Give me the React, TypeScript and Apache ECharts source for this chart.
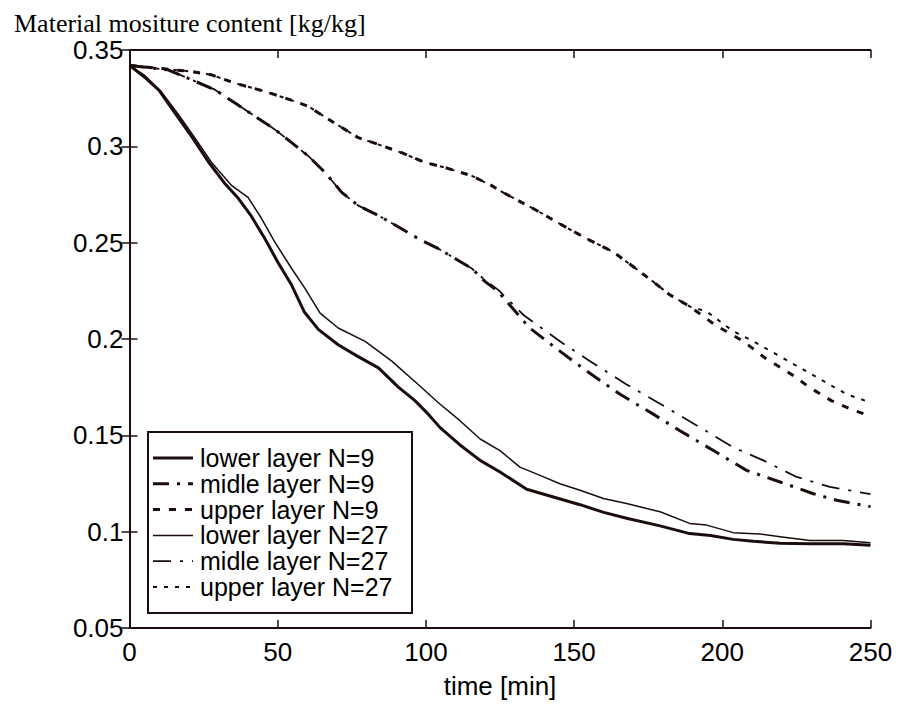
import React, { useEffect, useRef } from "react";
import * as echarts from "echarts";

// time [min], moisture [kg/kg]
const lowerN9: [number, number][] = [
  [0, 0.342], [5, 0.336], [10, 0.329], [15, 0.318], [21, 0.305], [26.6, 0.292], [32, 0.281],
  [36.7, 0.273], [41, 0.264], [45.7, 0.252], [50, 0.24], [54.7, 0.228], [59, 0.214], [63.7, 0.205],
  [70.4, 0.197], [77, 0.191], [84, 0.185], [90.7, 0.175], [96.3, 0.168], [100.8, 0.161],
  [104.8, 0.154], [111.5, 0.145], [118.3, 0.137], [125, 0.131], [134, 0.122], [143, 0.118],
  [152, 0.114], [160, 0.11], [167.7, 0.107], [179, 0.103], [189, 0.099], [196, 0.098],
  [203.7, 0.096], [210.5, 0.095], [219.5, 0.094], [229.6, 0.0937], [240.8, 0.0937], [250, 0.093],
];

const lowerN27: [number, number][] = [
  [0, 0.342], [5, 0.337], [10.9, 0.328], [16.5, 0.3165], [22, 0.3045], [27.7, 0.2916],
  [34.5, 0.2796], [40, 0.2735], [44.6, 0.2624], [49, 0.2504], [54.7, 0.2366], [59.2, 0.2263],
  [64.3, 0.2134], [70.4, 0.2057], [79.5, 0.1988], [88.5, 0.1885], [97.4, 0.1764], [104.5, 0.1665],
  [111.5, 0.1576], [118.3, 0.1481], [125, 0.1421], [131.7, 0.1335], [138.5, 0.1292],
  [145.2, 0.1249], [152, 0.1215], [159.9, 0.1172], [167.7, 0.1146], [179, 0.1103], [189, 0.1043],
  [194.7, 0.1034], [203.7, 0.0995], [212.7, 0.0988], [219.5, 0.0974], [229.6, 0.0954],
  [240.8, 0.0954], [250, 0.0943],
];

const midleN9: [number, number][] = [
  [0, 0.342], [13, 0.3397], [21, 0.3345], [28.8, 0.3294], [35.6, 0.3225], [42.3, 0.3156],
  [49, 0.3088], [54.7, 0.3019], [60.3, 0.295], [66, 0.2864], [71.6, 0.2761], [77.2, 0.2692],
  [84, 0.2641], [91.8, 0.2572], [97.4, 0.2521], [104.2, 0.2469], [109.8, 0.2418], [115.5, 0.2366],
  [120, 0.2298], [124.4, 0.2246], [135, 0.2057], [145.2, 0.1937], [154.2, 0.1834],
  [165.5, 0.1713], [176.7, 0.161], [185.7, 0.1524], [197, 0.1421], [208.2, 0.1318],
  [219.5, 0.1258], [230.7, 0.1197], [238.6, 0.1163], [250, 0.113],
];

const midleN27: [number, number][] = [
  [0, 0.342], [13, 0.3397], [21, 0.3345], [28.8, 0.3294], [35.6, 0.3225], [42.3, 0.3156],
  [49, 0.3088], [54.7, 0.3019], [60.3, 0.295], [66, 0.2864], [71.6, 0.2761], [77.2, 0.2692],
  [84, 0.2641], [91.8, 0.2572], [97.4, 0.2521], [104.2, 0.2469], [109.8, 0.2418], [115.5, 0.2366],
  [120, 0.2305], [124.4, 0.2255], [132.9, 0.2125], [145.2, 0.1988], [155.4, 0.1885],
  [167.7, 0.1764], [181.2, 0.1644], [192.5, 0.1541], [203.7, 0.1438], [213.8, 0.137],
  [225.1, 0.1284], [236.3, 0.1232], [250, 0.1195],
];

const upperN9: [number, number][] = [
  [0, 0.342], [13, 0.34], [21, 0.3388], [27.7, 0.3371], [35.6, 0.3328], [45.7, 0.3285],
  [52.5, 0.3251], [60.3, 0.3208], [68.2, 0.313], [77.2, 0.3045], [83.9, 0.301], [91.8, 0.2967],
  [99.7, 0.2916], [106.4, 0.289], [115.5, 0.2847], [122.2, 0.2796], [126, 0.2761],
  [137.4, 0.2667], [145.2, 0.2598], [154.2, 0.2521], [163.2, 0.2452], [170, 0.2375],
  [176.7, 0.2297], [182.4, 0.2228], [189.1, 0.2168], [197.5, 0.2074], [207.1, 0.1988],
  [214.4, 0.1902], [223.4, 0.1816], [229.6, 0.1747], [236.9, 0.1679], [244.8, 0.1627], [250, 0.16],
];

const upperN27: [number, number][] = [
  [0, 0.342], [13, 0.34], [21, 0.3388], [27.7, 0.3371], [35.6, 0.3328], [45.7, 0.3285],
  [52.5, 0.3251], [60.3, 0.3208], [68.2, 0.313], [77.2, 0.3045], [83.9, 0.301], [91.8, 0.2967],
  [99.7, 0.2916], [106.4, 0.289], [115.5, 0.2847], [122.2, 0.2796], [126, 0.2761],
  [137.4, 0.2667], [145.2, 0.2598], [154.2, 0.2521], [163.2, 0.2452], [170, 0.2375],
  [176.7, 0.2297], [182.4, 0.2228], [189.1, 0.2168], [194.7, 0.2143], [203.7, 0.204],
  [210.5, 0.1988], [218.4, 0.1919], [226.2, 0.1851], [234.1, 0.1782], [242, 0.1713], [250, 0.167],
];

const seriesNames = [
  "lower layer N=9",
  "midle layer N=9",
  "upper layer N=9",
  "lower layer N=27",
  "midle layer N=27",
  "upper layer N=27",
];

const xTickLabels = ["0", "50", "100", "150", "200", "250"];
const yTickLabels = ["0.05", "0.1", "0.15", "0.2", "0.25", "0.3", "0.35"];

const INK = "#1c0c0c";
const SANS = "'Liberation Sans', Arial, Helvetica, sans-serif";
const SERIF = "'Liberation Serif', 'Times New Roman', serif";

const LINE_STYLES: { width: number; dash: number[] | null }[] = [
  { width: 3, dash: null },
  { width: 3, dash: [16, 8, 3, 8] },
  { width: 3, dash: [7, 9] },
  { width: 1.5, dash: null },
  { width: 1.8, dash: [18, 9, 3, 9] },
  { width: 2, dash: [4, 7] },
];

export default function App() {
  const ref = useRef<HTMLDivElement>(null);

  useEffect(() => {
    if (!ref.current) return;
    const chart = echarts.init(ref.current, undefined, { renderer: "svg" });

    const datasets = [lowerN9, midleN9, upperN9, lowerN27, midleN27, upperN27];

    const axisCommon = {
      axisLine: { lineStyle: { color: INK, width: 2 } },
      axisTick: { inside: true, length: 8, lineStyle: { color: INK, width: 1.5 } },
      splitLine: { show: false },
    };

    // legend box (drawn as graphic to reproduce line-only keys)
    const boxL = 148, boxT = 432, boxR = 412, boxB = 613;
    const row0 = 458, rowStep = 25.8;
    const legendChildren: any[] = [
      {
        type: "rect",
        shape: { x: boxL, y: boxT, width: boxR - boxL, height: boxB - boxT },
        style: { fill: "#fff", stroke: INK, lineWidth: 2 },
      },
    ];
    seriesNames.forEach((name, i) => {
      const y = row0 + i * rowStep;
      const st = LINE_STYLES[i];
      legendChildren.push({
        type: "line",
        shape: { x1: 153, y1: y, x2: 193, y2: y },
        style: {
          stroke: INK,
          lineWidth: st.width,
          lineDash: st.dash ?? undefined,
          lineCap: "butt",
        },
      });
      legendChildren.push({
        type: "text",
        x: 200,
        y: y,
        style: {
          text: name,
          fontFamily: SANS,
          fontSize: 25,
          fill: "#000",
          verticalAlign: "middle",
          align: "left",
        },
      });
    });

    chart.setOption({
      animation: false,
      backgroundColor: "#ffffff",
      title: {
        text: "Material mositure content [kg/kg]",
        left: 9,
        top: 5,
        textStyle: { fontFamily: SERIF, fontSize: 26, fontWeight: "normal", color: "#000" },
      },
      grid: { left: 129.5, right: 27.5, top: 50, bottom: 72, containLabel: false },
      xAxis: [
        {
          type: "value",
          min: 0,
          max: 250,
          interval: 50,
          position: "bottom",
          name: "time [min]",
          nameLocation: "middle",
          nameGap: 45,
          nameTextStyle: { fontFamily: SANS, fontSize: 26, color: "#000" },
          axisLabel: {
            margin: 11,
            fontFamily: SANS,
            fontSize: 26,
            color: "#000",
            formatter: (_v: number, i: number) => xTickLabels[i] ?? String(_v),
          },
          ...axisCommon,
        },
        {
          type: "value",
          min: 0,
          max: 250,
          interval: 50,
          position: "top",
          axisLabel: { show: false },
          ...axisCommon,
        },
      ],
      yAxis: [
        {
          type: "value",
          min: 0.05,
          max: 0.35,
          interval: 0.05,
          position: "left",
          axisLabel: {
            margin: 6,
            fontFamily: SANS,
            fontSize: 26,
            color: "#000",
            formatter: (_v: number, i: number) => yTickLabels[i] ?? String(_v),
          },
          ...axisCommon,
        },
        {
          type: "value",
          min: 0.05,
          max: 0.35,
          interval: 0.05,
          position: "right",
          axisLabel: { show: false },
          ...axisCommon,
        },
      ],
      graphic: [{ type: "group", z: 100, children: legendChildren }],
      series: datasets.map((d, i) => ({
        type: "line",
        name: seriesNames[i],
        data: d,
        xAxisIndex: 0,
        yAxisIndex: 0,
        symbol: "none",
        showSymbol: false,
        smooth: false,
        z: 6 - i,
        lineStyle: {
          color: INK,
          width: LINE_STYLES[i].width,
          type: LINE_STYLES[i].dash ?? "solid",
          cap: "butt",
          join: "round",
        },
        itemStyle: { color: INK },
      })),
    });

    return () => chart.dispose();
  }, []);

  return (
    <div
      ref={ref}
      style={{ position: "fixed", left: 0, top: 0, width: 898, height: 704, background: "#fff" }}
    />
  );
}
